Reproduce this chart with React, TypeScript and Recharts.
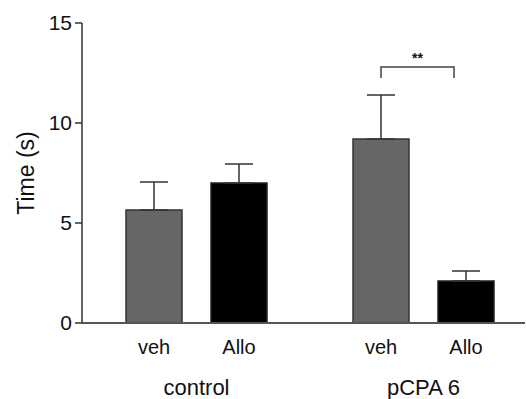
import React from 'react';
import { BarChart, Bar, XAxis, YAxis, ErrorBar, LabelList } from 'recharts';

const groups = ['control', 'pCPA 6'];
const seriesNames = ['veh', 'Allo'];
const vehMean = [5.65, 9.2];
const vehErr = [1.4, 2.2];
const alloMean = [7.0, 2.1];
const alloErr = [0.95, 0.5];
const yTicks = [0, 5, 10, 15];

// significance bracket over the pCPA 6 group
const bracketTop = 12.8;
const bracketLeg = 12.25;
const bracketLabel = '**';

const data = groups.map((g, i) => ({
  group: g,
  veh: vehMean[i],
  vehErr: [0, vehErr[i]],
  allo: alloMean[i],
  alloErr: [0, alloErr[i]],
}));

const FONT = '"Liberation Sans", Arial, sans-serif';
const BAR_SIZE = 56;
const BAR_GAP = 29;

const SubLabel = (name: string) => (props: any) => {
  const { x, y, width, height } = props;
  return (
    <text
      x={x + width / 2}
      y={y + height + 31}
      textAnchor="middle"
      fontSize={20}
      fontFamily={FONT}
      fill="#111"
    >
      {name}
    </text>
  );
};

const VehLabel = (props: any) => {
  const { index, x, y, width, height, value } = props;
  const sub = SubLabel(seriesNames[0])(props);
  if (index !== 1) return sub;
  const px = height / value;
  const base = y + height;
  const yTop = base - bracketTop * px;
  const yLeg = base - bracketLeg * px;
  const x1 = x + width / 2;
  const x2 = x + width + BAR_GAP + 16;
  return (
    <g>
      {sub}
      <path
        d={`M${x1},${yLeg} L${x1},${yTop} L${x2},${yTop} L${x2},${yLeg}`}
        fill="none"
        stroke="#444"
        strokeWidth={1.5}
      />
      <text
        x={(x1 + x2) / 2}
        y={yTop - 4}
        textAnchor="middle"
        fontSize={14}
        fontWeight="bold"
        fontFamily={FONT}
        fill="#111"
      >
        {bracketLabel}
      </text>
    </g>
  );
};

const YTitle = (props: any) => {
  const { viewBox } = props;
  const cx = viewBox.x + 26;
  const cy = viewBox.y + viewBox.height / 2;
  return (
    <text
      x={cx}
      y={cy}
      transform={`rotate(-90 ${cx} ${cy})`}
      textAnchor="middle"
      dominantBaseline="central"
      fontSize={23}
      fontFamily={FONT}
      fill="#111"
    >
      Time (s)
    </text>
  );
};

export default function App() {
  return (
    <div style={{ position: 'absolute', left: 0, top: 0, background: '#fff' }}>
      <BarChart
        width={526}
        height={399}
        data={data}
        margin={{ top: 23, right: 1, left: 0, bottom: 0 }}
        barSize={BAR_SIZE}
        barGap={BAR_GAP}
      >
        <XAxis
          dataKey="group"
          height={76}
          padding={{ left: 1, right: -12 }}
          tickLine={false}
          axisLine={{ stroke: '#555', strokeWidth: 2 }}
          tickSize={0}
          tickMargin={56}
          tick={{ fontSize: 22, fill: '#111', fontFamily: FONT }}
        />
        <YAxis
          width={82}
          domain={[0, 15]}
          ticks={yTicks}
          interval={0}
          tickSize={7}
          tickMargin={3}
          axisLine={{ stroke: '#333', strokeWidth: 1.5 }}
          tickLine={{ stroke: '#333', strokeWidth: 1.5 }}
          tick={{ fontSize: 21, fill: '#111', fontFamily: FONT }}
          label={<YTitle />}
        />
        <Bar dataKey="veh" fill="#666666" stroke="#333" strokeWidth={1.5} isAnimationActive={false}>
          <ErrorBar dataKey="vehErr" width={14} stroke="#333" strokeWidth={1.5} direction="y" />
          <LabelList dataKey="veh" content={VehLabel} />
        </Bar>
        <Bar dataKey="allo" fill="#000000" stroke="#222" strokeWidth={1.5} isAnimationActive={false}>
          <ErrorBar dataKey="alloErr" width={14} stroke="#333" strokeWidth={1.5} direction="y" />
          <LabelList dataKey="allo" content={SubLabel(seriesNames[1])} />
        </Bar>
      </BarChart>
    </div>
  );
}
